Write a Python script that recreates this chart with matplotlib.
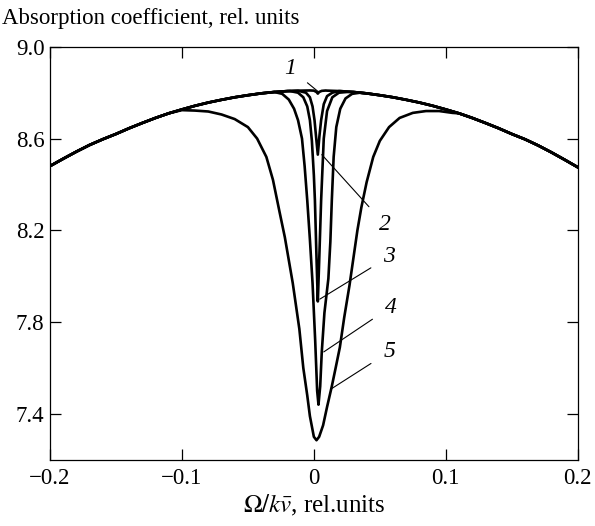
import matplotlib.pyplot as plt

plt.rcParams['font.family'] = ['Liberation Serif', 'DejaVu Serif']
plt.rcParams['mathtext.fontset'] = 'stix'

# broad Doppler contour shared by all curves
env_x = [-0.20, -0.19, -0.18, -0.17, -0.16, -0.15, -0.14, -0.13, -0.12, -0.11,
         -0.10, -0.09, -0.08, -0.07, -0.06, -0.05, -0.04, -0.03, -0.02, -0.01,
         0.00, 0.01, 0.02, 0.03, 0.04, 0.05, 0.06, 0.07, 0.08, 0.09,
         0.10, 0.11, 0.12, 0.13, 0.14, 0.15, 0.16, 0.17, 0.18, 0.19, 0.20]
env_y = [8.480, 8.512, 8.543, 8.572, 8.597, 8.620, 8.645, 8.668, 8.690, 8.710,
         8.727, 8.743, 8.757, 8.769, 8.780, 8.789, 8.797, 8.803, 8.807, 8.809,
         8.810, 8.809, 8.807, 8.803, 8.797, 8.789, 8.780, 8.769, 8.757, 8.743,
         8.727, 8.710, 8.690, 8.668, 8.645, 8.620, 8.597, 8.570, 8.540, 8.508, 8.475]

# narrow dips in the centre
dip1_x = [-0.003, 0.0, 0.002, 0.003, 0.004, 0.006, 0.009]
dip1_y = [8.8098, 8.809, 8.803, 8.796, 8.803, 8.808, 8.8095]

dip2_x = [-0.012, -0.006, -0.003, -0.001, 0.0005, 0.0018, 0.003, 0.0042, 0.0055,
          0.0075, 0.010, 0.014, 0.019]
dip2_y = [8.8085, 8.80, 8.78, 8.74, 8.68, 8.60, 8.53, 8.61, 8.68, 8.75, 8.785,
          8.80, 8.807]

dip3_x = [-0.018, -0.012, -0.008, -0.005, -0.003, -0.0015, 0.0, 0.0008, 0.002,
          0.003, 0.004, 0.0055, 0.0075, 0.010, 0.014, 0.019, 0.025]
dip3_y = [8.807, 8.80, 8.78, 8.74, 8.68, 8.59, 8.44, 8.33, 8.08, 7.89, 8.06,
          8.33, 8.60, 8.72, 8.78, 8.80, 8.803]

dip4_x = [-0.030, -0.024, -0.019, -0.015, -0.012, -0.009, -0.007, -0.005, -0.003,
          -0.001, 0.001, 0.0025, 0.0035, 0.0048, 0.006, 0.008, 0.011, 0.0125,
          0.0136, 0.015, 0.017, 0.020, 0.024, 0.029, 0.035]
dip4_y = [8.803, 8.795, 8.77, 8.73, 8.68, 8.60, 8.48, 8.33, 8.16, 7.97, 7.72,
          7.50, 7.44, 7.52, 7.67, 7.84, 7.99, 8.15, 8.33, 8.52, 8.65, 8.73,
          8.775, 8.795, 8.80]

dip5_x = [-0.10, -0.09, -0.08, -0.07, -0.06, -0.05, -0.043, -0.036, -0.031, -0.026,
          -0.022, -0.016, -0.011, -0.008, -0.005, -0.003, 0.0, 0.002, 0.004, 0.007,
          0.010, 0.0136, 0.0165, 0.0197, 0.023, 0.027, 0.030, 0.033, 0.036, 0.040,
          0.045, 0.050, 0.057, 0.065, 0.075, 0.085, 0.095, 0.105]
dip5_y = [8.724, 8.722, 8.718, 8.705, 8.685, 8.65, 8.60, 8.52, 8.42, 8.28,
          8.17, 7.97, 7.77, 7.60, 7.48, 7.39, 7.30, 7.285, 7.30, 7.35,
          7.43, 7.52, 7.60, 7.69, 7.82, 7.96, 8.08, 8.20, 8.30, 8.41,
          8.52, 8.59, 8.65, 8.69, 8.712, 8.72, 8.72, 8.712]

curve_labels = ['1', '2', '3', '4', '5']
label_xy = [(-0.018, 8.905), (0.054, 8.225), (0.057, 8.085), (0.058, 7.865), (0.057, 7.67)]
tip_xy = [(0.003, 8.806), (0.006, 8.53), (0.0045, 7.90), (0.0075, 7.67), (0.0135, 7.51)]

xticks = [-0.2, -0.1, 0, 0.1, 0.2]
xtick_labels = ['\u22120.2', '\u22120.1', '0', '0.1', '0.2']
yticks = [7.4, 7.8, 8.2, 8.6, 9.0]


def with_envelope(dx, dy):
    # envelope outside the dip, measured points inside
    xs = [x for x in env_x if x < dx[0]] + dx + [x for x in env_x if x > dx[-1]]
    ys = ([y for x, y in zip(env_x, env_y) if x < dx[0]] + dy +
          [y for x, y in zip(env_x, env_y) if x > dx[-1]])
    return xs, ys


fig = plt.figure(figsize=(5.95, 5.26), dpi=100)
ax = fig.add_axes([0.084, 0.126, 0.887, 0.785])

for dx, dy in [(dip1_x, dip1_y), (dip2_x, dip2_y), (dip3_x, dip3_y),
               (dip4_x, dip4_y), (dip5_x, dip5_y)]:
    xs, ys = with_envelope(dx, dy)
    ax.plot(xs, ys, color='black', linewidth=1.9, solid_joinstyle='round')

for lab, (tx, ty), (px, py) in zip(curve_labels, label_xy, tip_xy):
    ax.annotate(lab, xy=(px, py), xytext=(tx, ty), fontsize=17, style='italic',
                ha='center', va='center',
                arrowprops=dict(arrowstyle='-', color='black', linewidth=0.8,
                                shrinkA=8, shrinkB=0))

ax.set_xlim(-0.2, 0.2)
ax.set_ylim(7.2, 9.0)
ax.set_xticks(xticks)
ax.set_xticklabels(xtick_labels)
ax.set_yticks(yticks)
ax.set_yticklabels(['7.4', '7.8', '8.2', '8.6', '9.0'])
ax.tick_params(direction='in', length=8, width=0.9, labelsize=16.5,
               top=True, right=True, pad=6)
ax.tick_params(axis='y', pad=4)
for s in ax.spines.values():
    s.set_linewidth(0.9)

ax.set_xlabel(r'$\Omega/k\bar{v}$, rel.units', fontsize=18, labelpad=3)
fig.text(0.003, 0.964, 'Absorption coefficient, rel. units', fontsize=16.5,
         ha='left', va='center')

fig.savefig('out.png', dpi=100)
